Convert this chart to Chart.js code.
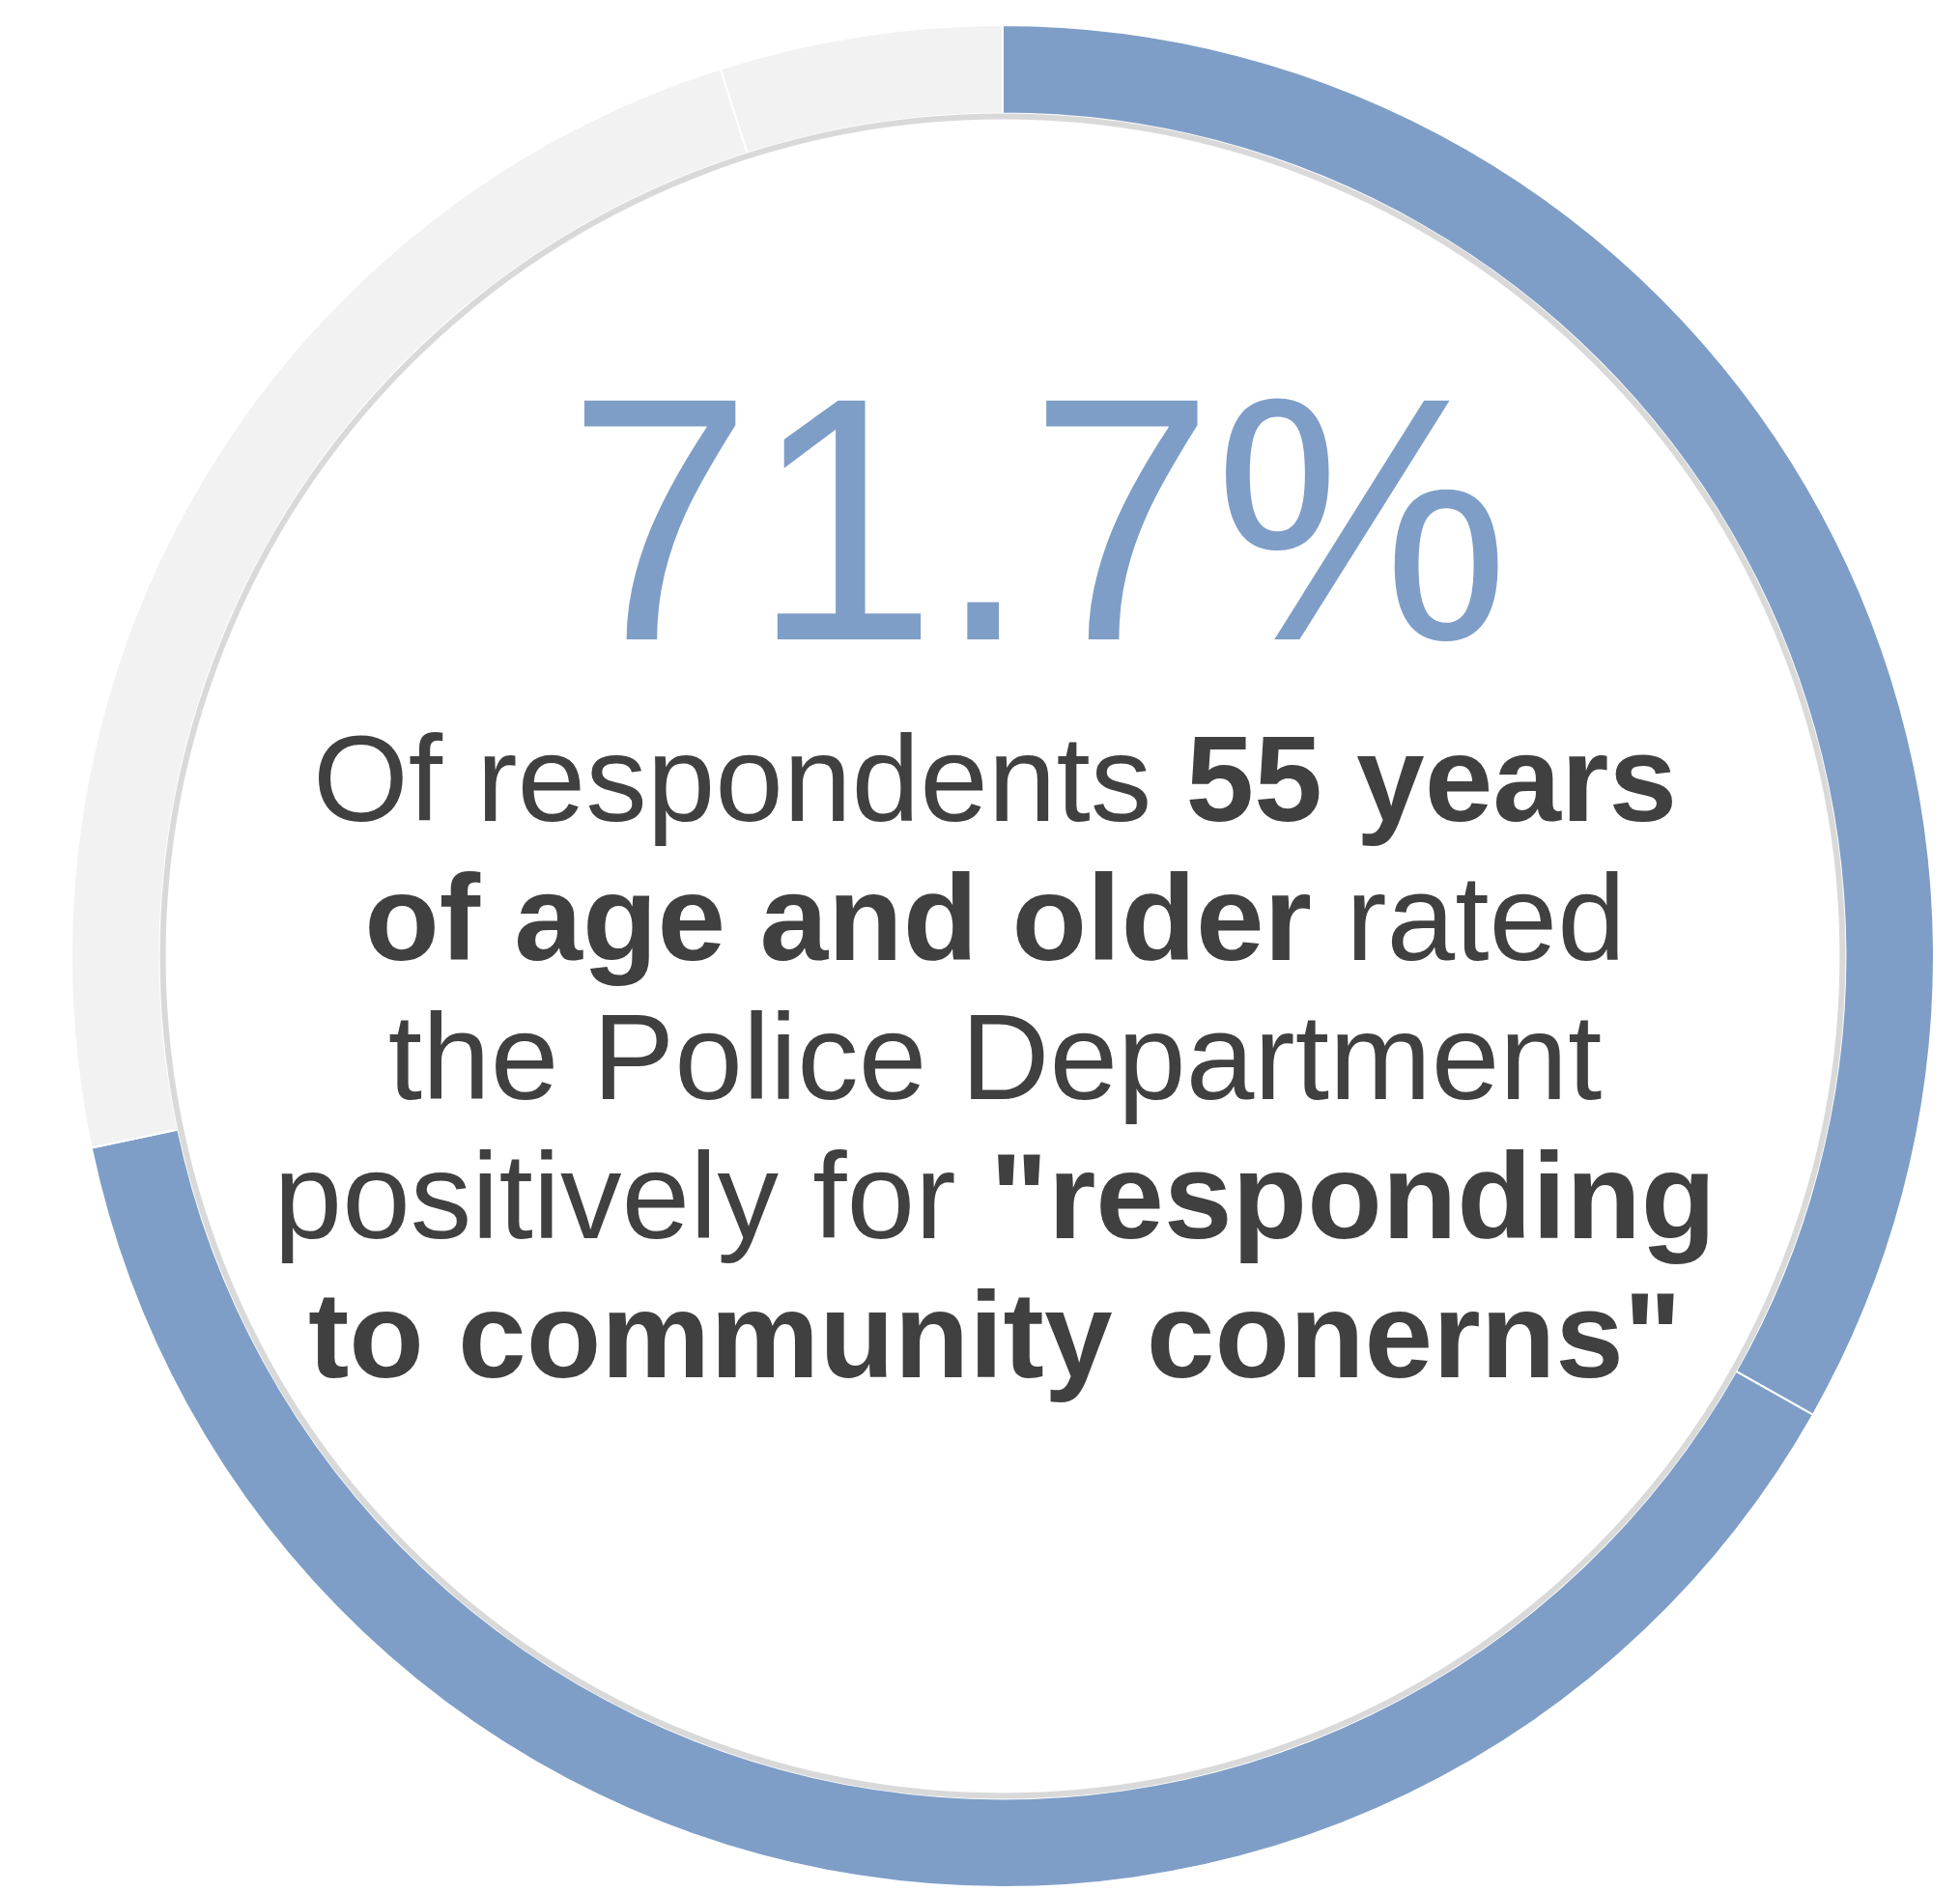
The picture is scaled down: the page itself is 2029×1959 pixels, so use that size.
<!DOCTYPE html>
<html>
<head>
<meta charset="utf-8">
<title>Police Department rating, respondents 55+</title>
<script src="https://cdn.jsdelivr.net/npm/chart.js@4/dist/chart.umd.min.js"></script>
<style>
    html, body {
        margin: 0;
        padding: 0;
        background: #ffffff;
        width: 2029px;
        height: 1959px;
        overflow: hidden;
    }
    #ringChart {
        position: absolute;
        left: 73px;
        top: 25px;
    }
    .big-number {
        position: absolute;
        left: 75px;
        top: 371px;
        width: 2000px;
        text-align: center;
        font-family: "Liberation Sans", Arial, sans-serif;
        font-size: 344px;
        line-height: 1;
        color: #7e9ec7;
        white-space: nowrap;
        transform: scaleY(1.045);
        transform-origin: 50% 291px;
    }
    .caption {
        position: absolute;
        left: 30px;
        top: 734px;
        width: 2000px;
        text-align: center;
        font-family: "Liberation Sans", Arial, sans-serif;
        font-size: 127px;
        line-height: 144px;
        color: #404040;
        white-space: nowrap;
    }
    .caption b {
        font-weight: bold;
    }
</style>
</head>
<body>
<canvas id="ringChart" width="1930" height="1930"></canvas>
<div class="big-number" id="big-number"></div>
<div class="caption">
    Of respondents <b>55 years</b><br>
    <b>of age and older</b> rated<br>
    the Police Department<br>
    positively for <b>"responding</b><br>
    <b>to community conerns"</b>
</div>

<script>
// Survey breakdown (percent of respondents)
const ratings = ['Excellent', 'Good', 'Fair', 'Poor'];
const shares = [33.2, 38.5, 23.4, 4.9];
const positive = [true, true, false, false];

const blue = '#7e9ec7';
const grey = '#f2f2f2';
const colors = positive.map(p => p ? blue : grey);

// Thin grey rim just inside the ring
const innerRim = {
    id: 'innerRim',
    afterDatasetsDraw(chart) {
        const arc = chart.getDatasetMeta(0).data[0];
        if (!arc) return;
        const ctx = chart.ctx;
        ctx.save();
        ctx.beginPath();
        ctx.arc(arc.x, arc.y, arc.innerRadius - 3, 0, Math.PI * 2);
        ctx.lineWidth = 6;
        ctx.strokeStyle = '#d9d9d9';
        ctx.stroke();
        ctx.restore();
    }
};

function initChart() {
    const ctx = document.getElementById('ringChart').getContext('2d');
    new Chart(ctx, {
        type: 'doughnut',
        data: {
            labels: ratings,
            datasets: [{
                data: shares,
                backgroundColor: colors,
                borderColor: '#ffffff',
                borderWidth: 2
            }]
        },
        options: {
            responsive: false,
            animation: false,
            cutout: '90.5%',
            layout: { padding: 0 },
            plugins: {
                legend: { display: false },
                tooltip: { enabled: false }
            }
        },
        plugins: [innerRim]
    });

    // Headline figure = share of positive ratings
    const total = shares.reduce((a, b) => a + b, 0);
    const pos = shares.filter((v, i) => positive[i]).reduce((a, b) => a + b, 0);
    document.getElementById('big-number').textContent = (pos / total * 100).toFixed(1) + '%';
}

document.addEventListener('DOMContentLoaded', initChart);
</script>
</body>
</html>
